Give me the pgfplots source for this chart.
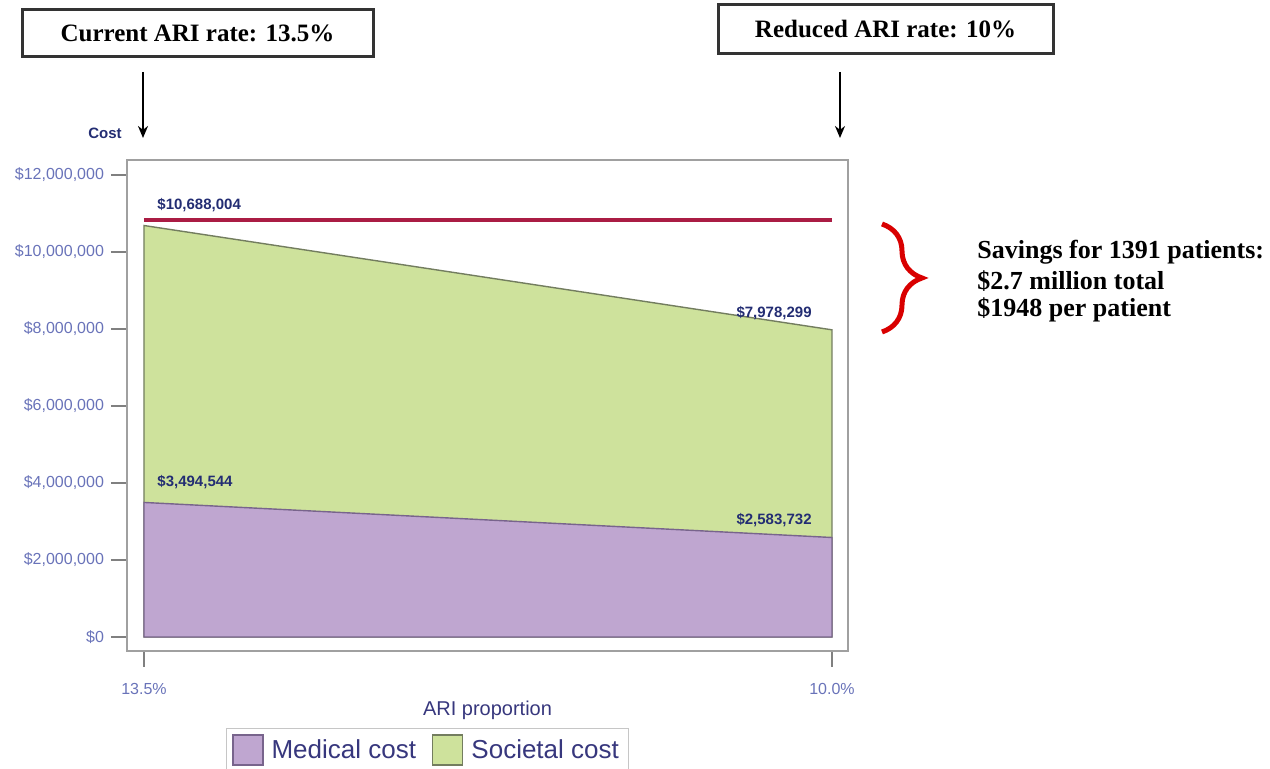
\documentclass[border=0pt]{standalone}
\usepackage{fontspec}
\setmainfont{Liberation Sans}
\newfontfamily\timesb{Liberation Serif}[BoldFont={Liberation Serif Bold}]
\usepackage{pgfplots}
\pgfplotsset{compat=1.18}
\usetikzlibrary{decorations.pathreplacing,arrows.meta}
\definecolor{medpurple}{RGB}{191,166,208}
\definecolor{mededge}{RGB}{120,100,140}
\definecolor{socgreen}{RGB}{206,226,156}
\definecolor{socedge}{RGB}{115,125,95}
\definecolor{refred}{RGB}{170,28,68}
\definecolor{ticklab}{RGB}{105,115,185}
\definecolor{navy}{RGB}{35,45,115}
\definecolor{legtext}{RGB}{55,55,125}
\definecolor{framegray}{RGB}{160,160,160}
\begin{document}
\begin{tikzpicture}[x=0.5pt,y=0.5pt]
\useasboundingbox (0,0) rectangle (1270,769);
\begin{axis}[
  at={(63.5pt,59pt)}, anchor=south west,
  scale only axis, width=360.5pt, height=245.5pt,
  xmin=-0.0247, xmax=1.0233,
  ymin=-364000, ymax=12390000,
  axis line style={framegray, line width=0.8pt},
  tick align=outside, major tick length=8pt,
  tick style={color=gray, line width=0.8pt},
  xtick={0,1}, xticklabels={13.5\%,10.0\%},
  ytick={0,2000000,4000000,6000000,8000000,10000000,12000000},
  yticklabels={\$0,{\$2,000,000},{\$4,000,000},{\$6,000,000},{\$8,000,000},{\$10,000,000},{\$12,000,000}},
  scaled y ticks=false,
  xtick pos=bottom, ytick pos=left,
  ticklabel style={font=\fontsize{8pt}{9pt}\selectfont, text=ticklab},
  xticklabel style={yshift=-4.5pt},
  xlabel={ARI proportion},
  xlabel style={font=\fontsize{10pt}{12pt}\selectfont, text=legtext, yshift=3.5pt},
  legend columns=2,
  legend style={at={(0.137,-0.157)}, anchor=north west, draw=gray!45,
    font=\fontsize{13pt}{15pt}\selectfont, text=legtext,
    inner xsep=3pt, inner ysep=3pt,
    /tikz/every odd column/.append style={column sep=2pt},
    /tikz/every even column/.append style={column sep=6pt}},
  legend image code/.code={\draw[#1] (0pt,-7.5pt) rectangle (15pt,7.5pt);},
  clip=false,
]
\addplot[fill=socgreen, draw=socedge, line width=0.7pt, forget plot]
  coordinates {(0,10688004) (1,7978299)} \closedcycle;
\addplot[fill=medpurple, draw=mededge, line width=0.7pt]
  coordinates {(0,3494544) (1,2583732)} \closedcycle;
\addlegendentry{Medical cost}
\addlegendimage{fill=socgreen, draw=socedge, line width=0.7pt}
\addlegendentry{Societal cost}
\addplot[refred, line width=1.8pt, forget plot]
  coordinates {(0,10830000) (1,10830000)};
\node[anchor=west, font=\bfseries\fontsize{7.5pt}{9pt}\selectfont, text=navy, inner sep=0pt] at (axis cs:0.019,11220000) {\$10,688,004};
\node[anchor=east, font=\bfseries\fontsize{7.5pt}{9pt}\selectfont, text=navy, inner sep=0pt] at (axis cs:0.971,8420000) {\$7,978,299};
\node[anchor=west, font=\bfseries\fontsize{7.5pt}{9pt}\selectfont, text=navy, inner sep=0pt] at (axis cs:0.019,4030000) {\$3,494,544};
\node[anchor=east, font=\bfseries\fontsize{7.5pt}{9pt}\selectfont, text=navy, inner sep=0pt] at (axis cs:0.971,3040000) {\$2,583,732};
\end{axis}
% annotation boxes
\node[draw=black!80, line width=1.5pt, minimum width=175.5pt, minimum height=23.5pt, inner sep=0pt,
  font=\timesb\bfseries\fontsize{12.5pt}{14pt}\selectfont] at (197.5,735.5) {Current ARI rate: 13.5\%};
\node[draw=black!80, line width=1.5pt, minimum width=167.5pt, minimum height=24.5pt, inner sep=0pt,
  font=\timesb\bfseries\fontsize{12.5pt}{14pt}\selectfont] at (885.5,739.5) {Reduced ARI rate: 10\%};
\draw[line width=1pt, -{Stealth[length=6pt,width=5pt]}] (143,697) -- (143,631);
\draw[line width=1pt, -{Stealth[length=6pt,width=5pt]}] (840,697) -- (840,631);
\node[font=\bfseries\fontsize{7.5pt}{9pt}\selectfont, text=navy] at (105,636) {Cost};
% brace
\draw[red!85!black, line width=2.5pt, decorate, decoration={brace, amplitude=20pt}] (882,545) -- (882,437);
\node[anchor=west, font=\timesb\bfseries\fontsize{13pt}{15pt}\selectfont, inner sep=0pt] at (977,517) {Savings for 1391 patients:};
\node[anchor=west, font=\timesb\bfseries\fontsize{13pt}{15pt}\selectfont, inner sep=0pt] at (977,488) {\$2.7 million total};
\node[anchor=west, font=\timesb\bfseries\fontsize{13pt}{15pt}\selectfont, inner sep=0pt] at (977,459) {\$1948 per patient};
\end{tikzpicture}
\end{document}
